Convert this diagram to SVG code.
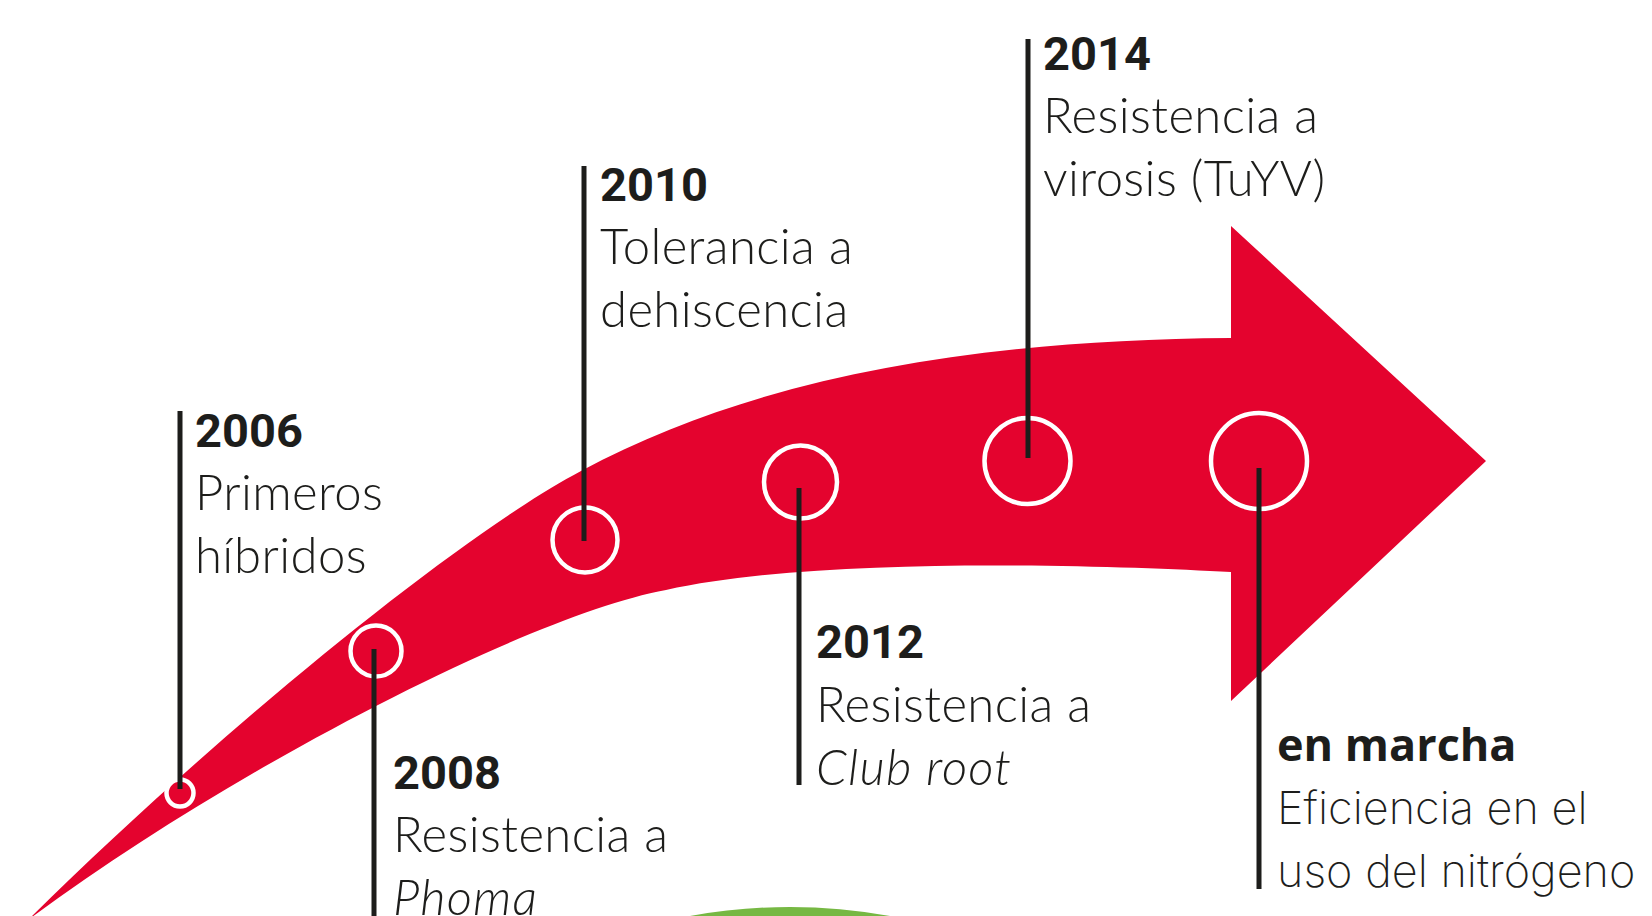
<svg xmlns="http://www.w3.org/2000/svg" width="1652" height="916" viewBox="0 0 1652 916">
<style>
.yr{font-family:Roboto,"Liberation Sans",sans-serif;font-weight:700;font-size:47px;fill:#1d1d1b}
.tx{font-family:Lato,"Liberation Sans",sans-serif;font-weight:300;font-size:49px;letter-spacing:0.4px;fill:#1d1d1b}
.it{font-style:italic;letter-spacing:1.2px}
.yr2{font-family:"Open Sans","Liberation Sans",sans-serif;font-weight:700;font-size:45px;fill:#1d1d1b}
.tx2{font-family:Inter,"Open Sans",sans-serif;font-weight:200;font-size:45px;fill:#1d1d1b}
.ring{fill:#e4032e;stroke:#fff;stroke-width:4.5}
.stem{stroke:#1d1d1b;stroke-width:5;fill:none}
</style>
<rect width="1652" height="916" fill="#fff"/>
<path id="green" d="M690,916 Q790,898 890,916 Z" fill="#76b843"/>
<path id="arrow" fill="#e4032e" d="M28,920 C220,730 460,535 581,471 C760,375 980,340 1231,338 L1231,226 L1486,461 L1231,701 L1231,572 C1100,565 820,556 666,590 C530,615 230,770 28,920 Z"/>
<g id="rings">
<circle class="ring" cx="180" cy="793" r="13.5"/>
<circle class="ring" cx="376" cy="651" r="25.5"/>
<circle class="ring" cx="585" cy="540" r="32.5"/>
<circle class="ring" cx="800.5" cy="482" r="36.5"/>
<circle class="ring" cx="1027.5" cy="461" r="43"/>
<circle class="ring" cx="1259" cy="461" r="48"/>
</g>
<g id="connectors">
<line class="stem" x1="180" y1="411" x2="180" y2="789"/>
<line class="stem" x1="374" y1="649" x2="374" y2="916"/>
<line class="stem" x1="584" y1="166" x2="584" y2="541"/>
<line class="stem" x1="799" y1="488" x2="799" y2="785"/>
<line class="stem" x1="1028" y1="39" x2="1028" y2="458"/>
<line class="stem" x1="1259" y1="468" x2="1259" y2="889"/>
</g>
<g id="n2006">
<text class="yr" x="195" y="447">2006</text>
<text class="tx" x="195" y="510">Primeros</text>
<text class="tx" x="195" y="573">híbridos</text>
</g>
<g id="n2008">
<text class="yr" x="393" y="789">2008</text>
<text class="tx" x="393" y="852">Resistencia a</text>
<text class="tx it" x="393" y="915">Phoma</text>
</g>
<g id="n2010">
<text class="yr" x="600" y="201">2010</text>
<text class="tx" x="600" y="264">Tolerancia a</text>
<text class="tx" x="600" y="327">dehiscencia</text>
</g>
<g id="n2012">
<text class="yr" x="816" y="658">2012</text>
<text class="tx" x="816" y="722">Resistencia a</text>
<text class="tx it" x="816" y="785">Club root</text>
</g>
<g id="n2014">
<text class="yr" x="1043" y="70">2014</text>
<text class="tx" x="1043" y="133">Resistencia a</text>
<text class="tx" x="1043" y="196">virosis (TuYV)</text>
</g>
<g id="nmarcha">
<text class="yr2" x="1277" y="761">en marcha</text>
<text class="tx2" x="1277" y="824">Eficiencia en el</text>
<text class="tx2" x="1277" y="887">uso del nitrógeno</text>
</g>
</svg>
